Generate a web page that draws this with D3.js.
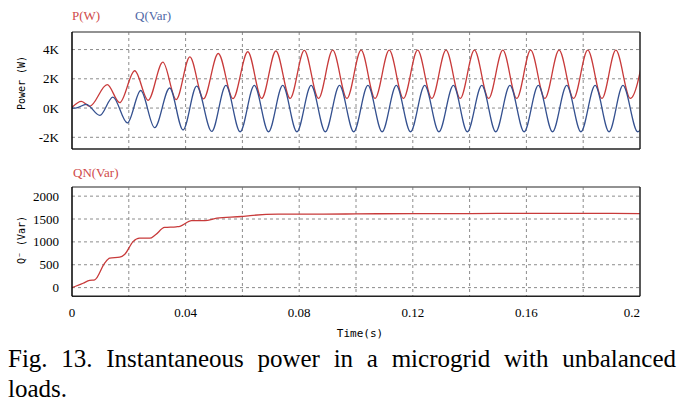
<!DOCTYPE html>
<html>
<head>
<meta charset="utf-8">
<script src="https://cdn.jsdelivr.net/npm/d3@7"></script>
<style>
body { margin: 0; background: #fff; }
svg { display: block; }
</style>
</head>
<body>
<div id="graph"></div>
<script>
var w = 685, h = 409

// ticks
var xLabels = [0, 0.04, 0.08, 0.12, 0.16, 0.2]
var powerTicks = [-2000, 0, 2000, 4000]
var powerLabels = ['-2K', '0K', '2K', '4K']
var qnTicks = [0, 500, 1000, 1500, 2000]

// P(W): extrema (time s, value W)
var pTime = [0, 0.0033, 0.0062, 0.0124, 0.0168, 0.0221, 0.0268, 0.0320, 0.0367, 0.0415,
  0.0463, 0.0515, 0.0567, 0.0619, 0.0668, 0.0718, 0.0768, 0.0818, 0.0868, 0.0918,
  0.0968, 0.1018, 0.1067, 0.1117, 0.1167, 0.1217, 0.1267, 0.1317, 0.1367, 0.1417,
  0.1467, 0.1517, 0.1566, 0.1615, 0.1665, 0.1715, 0.1766, 0.1816, 0.1866, 0.1915,
  0.1966, 0.2016]
var pValue = [50, 460, 120, 1600, 370, 2550, 530, 3140, 580, 3500,
  630, 3730, 650, 3850, 660, 3900, 660, 3950, 660, 3960,
  660, 3960, 660, 3960, 660, 3960, 660, 3960, 660, 3960,
  660, 3960, 660, 3960, 660, 3960, 660, 3960, 660, 3960,
  660, 3960]

// Q(Var)
var qTime = [0, 0.0012, 0.0050, 0.0098, 0.0144, 0.0195, 0.0242, 0.0291, 0.0344, 0.0391,
  0.0439, 0.0492, 0.0542, 0.0592, 0.0642, 0.0692, 0.0742, 0.0792, 0.0842, 0.0892,
  0.0942, 0.0992, 0.1042, 0.1092, 0.1142, 0.1192, 0.1242, 0.1292, 0.1343, 0.1392,
  0.1443, 0.1492, 0.1542, 0.1592, 0.1642, 0.1692, 0.1742, 0.1792, 0.1842, 0.1891,
  0.1940, 0.1992, 0.2042]
var qValue = [0, 0, 250, -500, 750, -1020, 1200, -1340, 1370, -1500,
  1500, -1600, 1550, -1620, 1550, -1620, 1550, -1620, 1550, -1620,
  1550, -1620, 1550, -1620, 1550, -1620, 1550, -1620, 1550, -1620,
  1550, -1620, 1550, -1620, 1550, -1620, 1550, -1620, 1550, -1620,
  1550, -1620, 1550]

// QN(Var)
var qnTime = [0, 0.0039, 0.0062, 0.0080, 0.0115, 0.0133, 0.0168, 0.0186, 0.0215, 0.0238,
  0.0274, 0.0293, 0.0326, 0.0367, 0.0380, 0.0421, 0.0468, 0.0510, 0.0598, 0.0627,
  0.0726, 0.0873, 0.1000, 0.1200, 0.1400, 0.1600, 0.1800, 0.2000]
var qnValue = [0, 95, 160, 170, 535, 645, 665, 730, 1005, 1080,
  1080, 1150, 1315, 1330, 1340, 1465, 1465, 1518, 1555, 1575,
  1605, 1605, 1612, 1618, 1620, 1622, 1622, 1620]

var caption1 = 'Fig. 13. Instantaneous power in a microgrid with unbalanced'
var caption2 = 'loads.'

var zip = (t, v) => t.map((d, i) => ({t: d, v: v[i]}))
var pData = zip(pTime, pValue), qData = zip(qTime, qValue), qnData = zip(qnTime, qnValue)

var svg = d3.select('#graph').html('')
  .append('svg')
  .attr('width', w)
  .attr('height', h)

var x = d3.scaleLinear().domain([0, 0.2]).range([72, 640])
var yTop = d3.scaleLinear().domain([-2800, 5200]).range([149, 32])
var yBot = d3.scaleLinear().domain([-190, 2200]).range([296.3, 187])

var serif = 'Liberation Serif, Times New Roman, serif'
var mono = 'DejaVu Sans Mono, Liberation Mono, monospace'

function panel(y, yTicks, labels, series, clipId) {
  var g = svg.append('g')
  var y0 = y.range()[0], y1 = y.range()[1]

  // grid
  g.selectAll('.vg').data(x.ticks(10).filter(d => d > 0.001 && d < 0.199))
    .enter().append('line')
    .attr('x1', d => x(d)).attr('x2', d => x(d))
    .attr('y1', y1).attr('y2', y0)
    .attr('stroke', '#8c8c8c').attr('stroke-dasharray', '3,3')
  g.selectAll('.hg').data(yTicks)
    .enter().append('line')
    .attr('x1', x(0)).attr('x2', x(0.2))
    .attr('y1', d => y(d)).attr('y2', d => y(d))
    .attr('stroke', '#8c8c8c').attr('stroke-dasharray', '3,3')

  // tick labels
  g.selectAll('.yl').data(yTicks)
    .enter().append('text')
    .attr('x', 59).attr('y', d => y(d)).attr('dy', '0.35em')
    .attr('text-anchor', 'end')
    .style('font', '13px ' + serif)
    .text((d, i) => labels[i])

  svg.append('clipPath').attr('id', clipId)
    .append('rect').attr('x', x(0)).attr('y', y1).attr('width', x(0.2) - x(0)).attr('height', y0 - y1)

  series.forEach(s => {
    var line = d3.line().x(d => x(d.t)).y(d => y(d.v)).curve(d3.curveMonotoneX)
    g.append('path')
      .attr('d', line(s.data))
      .attr('clip-path', 'url(#' + clipId + ')')
      .attr('fill', 'none')
      .attr('stroke', s.colour)
      .attr('stroke-width', 1.3)
  })

  // frame
  g.append('line').attr('x1', x(0)).attr('x2', x(0.2)).attr('y1', y1).attr('y2', y1)
    .attr('stroke', '#6e6e6e').attr('stroke-width', 1.5)
  g.append('line').attr('x1', x(0.2)).attr('x2', x(0.2)).attr('y1', y1).attr('y2', y0)
    .attr('stroke', '#222').attr('stroke-width', 1.5)
  g.append('line').attr('x1', x(0)).attr('x2', x(0.2)).attr('y1', y0).attr('y2', y0)
    .attr('stroke', '#222').attr('stroke-width', 1.5)
  g.append('line').attr('x1', x(0)).attr('x2', x(0)).attr('y1', y1).attr('y2', y0)
    .attr('stroke', '#000').attr('stroke-width', 1.5)
  return g
}

panel(yTop, powerTicks, powerLabels, [
  {data: pData, colour: '#c83a3a'},
  {data: qData, colour: '#34508f'}
], 'clipTop')

panel(yBot, qnTicks, qnTicks.map(String), [
  {data: qnData, colour: '#c83a3a'}
], 'clipBot')

// legends
svg.append('text').attr('x', 72).attr('y', 20).style('font', '13px ' + serif)
  .attr('fill', '#d04a4a').text('P(W)')
svg.append('text').attr('x', 135).attr('y', 20).style('font', '13px ' + serif)
  .attr('fill', '#5068a6').text('Q(Var)')
svg.append('text').attr('x', 73).attr('y', 177).style('font', '13px ' + serif)
  .attr('fill', '#d04a4a').text('QN(Var)')

// x labels
svg.selectAll('.xl').data(xLabels)
  .enter().append('text')
  .attr('x', d => x(d)).attr('y', 317)
  .attr('text-anchor', (d, i) => i == xLabels.length - 1 ? 'end' : 'middle')
  .style('font', '13px ' + serif)
  .text(d => d)

// axis titles
svg.append('text').attr('transform', 'translate(25,83) rotate(-90)')
  .attr('text-anchor', 'middle').style('font', '10px ' + mono).text('Power (W)')
svg.append('text').attr('transform', 'translate(25,240) rotate(-90)')
  .attr('text-anchor', 'middle').style('font', '10px ' + mono).text('Q\u207B (Var)')
svg.append('text').attr('x', 360).attr('y', 337)
  .attr('text-anchor', 'middle').style('font', '11px ' + mono).text('Time(s)')

// caption, first line justified
var words = caption1.split(' ')
var cap = svg.append('g').style('font', '25px ' + serif)
var wt = cap.selectAll('.w').data(words).enter().append('text').attr('y', 367).text(d => d)
var widths = wt.nodes().map(n => n.getComputedTextLength())
var gap = (676 - 8 - d3.sum(widths)) / (words.length - 1)
var pos = 8
wt.attr('x', (d, i) => { var p = pos; pos += widths[i] + gap; return p })
cap.append('text').attr('x', 8).attr('y', 397).text(caption2)
</script>
</body>
</html>
